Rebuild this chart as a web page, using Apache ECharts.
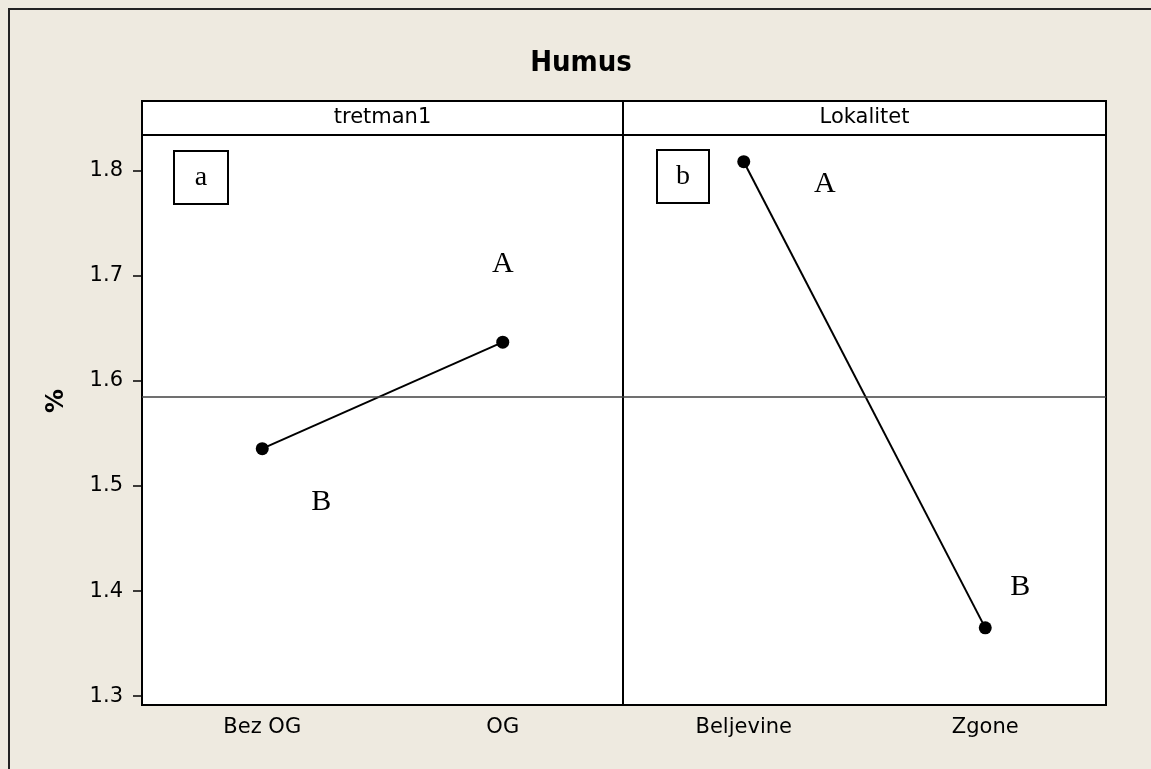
<!DOCTYPE html>
<html>
<head>
<meta charset="utf-8">
<script src="https://cdn.jsdelivr.net/npm/echarts@6/dist/echarts.min.js"></script>
<style>
    html, body { margin: 0; padding: 0; background: #EEEAE0; }
    #main { width: 1151px; height: 769px; }
</style>
</head>
<body>
<div id="main"></div>
<script>
// 数据
const treatCats = ['Bez OG', 'OG'];
const treatMeans = [1.5355, 1.6369];
const treatGroups = ['B', 'A'];

const siteCats = ['Beljevine', 'Zgone'];
const siteMeans = [1.8086, 1.365];
const siteGroups = ['A', 'B'];

const grandMean = 1.585;
const yTicks = [1.3, 1.4, 1.5, 1.6, 1.7, 1.8];
const yMin = 1.2916;
const yMax = 1.834;

const sansFont = '"DejaVu Sans", Tahoma, sans-serif';
const titleFont = '"DejaVu Sans Condensed", "DejaVu Sans", Tahoma, sans-serif';
const serifFont = '"Liberation Serif", "Times New Roman", serif';

let chart = echarts.getInstanceByDom(document.getElementById('main'));
if (!chart) chart = echarts.init(document.getElementById('main'));

// 字母标签的偏移 (相对点)
const treatOffsets = [[59, 53], [0, -78]];
const siteOffsets = [[81, 22], [35, -41]];

function buildData(values, offsets) {
    return values.map(function (v, i) {
        return { value: v, label: { offset: offsets[i] } };
    });
}

function yAxisConf(idx, showLabels) {
    return {
        type: 'value',
        gridIndex: idx,
        min: yMin,
        max: yMax,
        axisLine: { show: false },
        splitLine: { show: false },
        axisTick: {
            show: showLabels,
            length: 9,
            customValues: yTicks,
            lineStyle: { color: '#000', width: 1.5 }
        },
        axisLabel: {
            show: showLabels,
            customValues: yTicks,
            formatter: function (v) { return v.toFixed(1); },
            fontFamily: sansFont,
            fontSize: 21,
            color: '#000',
            margin: 19
        }
    };
}

function xAxisConf(idx, cats) {
    return {
        type: 'category',
        gridIndex: idx,
        data: cats,
        boundaryGap: true,
        axisLine: { show: false },
        axisTick: {
            alignWithLabel: true,
            length: 7,
            lineStyle: { color: '#000', width: 1.5 }
        },
        axisLabel: {
            fontFamily: sansFont,
            fontSize: 21,
            color: '#000',
            margin: 12
        }
    };
}

function seriesConf(idx, values, offsets, groups) {
    return {
        type: 'line',
        xAxisIndex: idx,
        yAxisIndex: idx,
        data: buildData(values, offsets),
        symbol: 'circle',
        symbolSize: 13,
        itemStyle: { color: '#000' },
        lineStyle: { color: '#000', width: 2 },
        label: {
            show: true,
            position: 'inside',
            formatter: function (p) { return groups[p.dataIndex]; },
            fontFamily: serifFont,
            fontSize: 30,
            color: '#000'
        },
        markLine: {
            silent: true,
            symbol: 'none',
            precision: 4,
            label: { show: false },
            lineStyle: { color: '#404040', width: 1.5, type: 'solid' },
            data: [{ yAxis: grandMean }]
        }
    };
}

function letterBox(x, y, w, h, txt) {
    return {
        type: 'group',
        children: [
            { type: 'rect', shape: { x: x, y: y, width: w, height: h },
              style: { fill: '#fff', stroke: '#000', lineWidth: 2 } },
            { type: 'text', x: x + w / 2, y: y + h / 2,
              style: { text: txt, font: '28px ' + serifFont, fill: '#000',
                       align: 'center', verticalAlign: 'middle' } }
        ]
    };
}

function strip(x, w, txt) {
    return {
        type: 'group',
        children: [
            { type: 'rect', shape: { x: x, y: 101, width: w, height: 34 },
              style: { fill: '#fff', stroke: '#000', lineWidth: 2 } },
            { type: 'text', x: x + w / 2, y: 118,
              style: { text: txt, font: '21px ' + sansFont, fill: '#000',
                       align: 'center', verticalAlign: 'middle' } }
        ]
    };
}

const option = {
    animation: false,
    backgroundColor: '#EEEAE0',
    grid: [
        { left: 142, top: 135, width: 481, height: 570, show: true,
          backgroundColor: '#fff', borderColor: '#000', borderWidth: 2 },
        { left: 623, top: 135, width: 483, height: 570, show: true,
          backgroundColor: '#fff', borderColor: '#000', borderWidth: 2 }
    ],
    xAxis: [xAxisConf(0, treatCats), xAxisConf(1, siteCats)],
    yAxis: [yAxisConf(0, true), yAxisConf(1, false)],
    series: [
        seriesConf(0, treatMeans, treatOffsets, treatGroups),
        seriesConf(1, siteMeans, siteOffsets, siteGroups)
    ],
    graphic: [
        // 外框
        { type: 'rect', shape: { x: 9, y: 9, width: 1200, height: 800 },
          style: { fill: null, stroke: '#222', lineWidth: 2 }, silent: true },
        { type: 'text', x: 581, y: 63,
          style: { text: 'Humus', font: 'bold 29px ' + titleFont, fill: '#000',
                   align: 'center', verticalAlign: 'middle' } },
        { type: 'text', x: 57, y: 401, rotation: Math.PI / 2,
          style: { text: '%', font: 'bold 24px ' + sansFont, fill: '#000',
                   align: 'center', verticalAlign: 'middle' } },
        strip(142, 481, 'tretman1'),
        strip(623, 483, 'Lokalitet'),
        letterBox(174, 151, 54, 53, 'a'),
        letterBox(657, 150, 52, 53, 'b')
    ]
};

chart.clear();
option && chart.setOption(option);

window.addEventListener('resize', function () {
    chart.resize();
});
</script>
</body>
</html>
